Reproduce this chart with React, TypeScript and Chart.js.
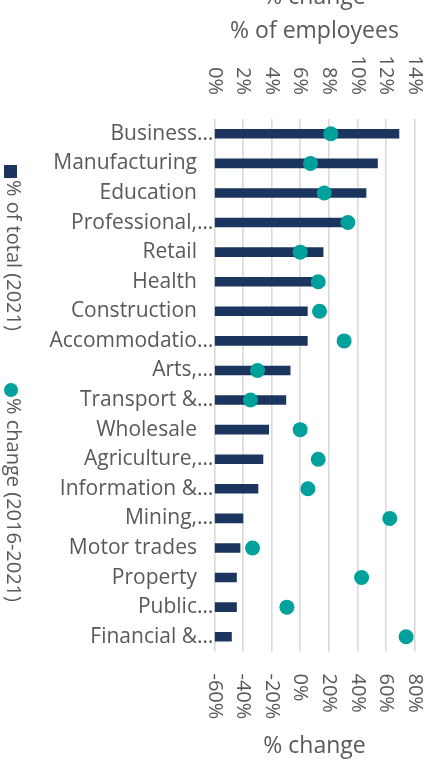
import React, { useEffect, useRef } from "react";
import { Chart, registerables } from "chart.js";

Chart.register(...registerables);

const categories = [
  "Business…",
  "Manufacturing",
  "Education",
  "Professional,…",
  "Retail",
  "Health",
  "Construction",
  "Accommodatio…",
  "Arts,…",
  "Transport &…",
  "Wholesale",
  "Agriculture,…",
  "Information &…",
  "Mining,…",
  "Motor trades",
  "Property",
  "Public…",
  "Financial &…",
];

// % of employees (2021) — top axis
const shareOfTotal = [12.9, 11.4, 10.6, 9.1, 7.6, 7.4, 6.5, 6.5, 5.3, 5.0, 3.8, 3.4, 3.05, 2.0, 1.8, 1.55, 1.55, 1.2];

// % change (2016-2021) — bottom axis
const pctChange = [21.4, 7.2, 16.8, 33.3, 0, 12.6, 13.5, 30.7, -29.8, -34.7, 0, 12.6, 5.4, 62.6, -33.3, 42.9, -9.3, 74];

const topAxis = { min: 0, max: 14, step: 2, title: "% of employees", extraTitle: "% change" };
const bottomAxis = { min: -60, max: 80, step: 20, title: "% change" };
const seriesNames = ["% of total (2021)", "% change (2016-2021)"];

const NAVY = "#1c355e";
const TEAL = "#00a19c";
const TEXT = "#595959";
const GRID = "#d9d9d9";
const FONT = '"Open Sans", sans-serif';

const overlayPlugin = {
  id: "overlay",
  afterDraw(chart: any) {
    const ctx = chart.ctx as CanvasRenderingContext2D;
    const ca = chart.chartArea;
    const cx = (ca.left + ca.right) / 2;
    ctx.save();
    ctx.fillStyle = TEXT;

    // top tick labels (rotated clockwise, ending near axis)
    ctx.font = `20px ${FONT}`;
    const top = chart.scales.xTop;
    top.ticks.forEach((t: any, i: number) => {
      const x = top.getPixelForTick(i);
      ctx.save();
      ctx.translate(x, ca.top - 24);
      ctx.rotate(Math.PI / 2);
      ctx.textAlign = "right";
      ctx.textBaseline = "middle";
      ctx.fillText(`${t.value}%`, 0, 0);
      ctx.restore();
    });

    // bottom tick labels
    const bot = chart.scales.xBottom;
    bot.ticks.forEach((t: any, i: number) => {
      const x = bot.getPixelForTick(i);
      ctx.save();
      ctx.translate(x, ca.bottom + 22);
      ctx.rotate(Math.PI / 2);
      ctx.textAlign = "left";
      ctx.textBaseline = "middle";
      ctx.fillText(`${t.value}%`, 0, 0);
      ctx.restore();
    });

    // axis titles
    ctx.font = `23px ${FONT}`;
    ctx.textAlign = "center";
    ctx.textBaseline = "alphabetic";
    ctx.fillText(topAxis.extraTitle, cx, ca.top - 115);
    ctx.fillText(topAxis.title, cx, ca.top - 81);
    ctx.fillText(bottomAxis.title, cx, ca.bottom + 101.5);

    // legend (vertical, rotated clockwise)
    ctx.font = `20px ${FONT}`;
    ctx.fillStyle = NAVY;
    ctx.fillRect(4, 197, 13, 13);
    ctx.fillStyle = TEAL;
    ctx.beginPath();
    ctx.arc(11, 422, 7, 0, Math.PI * 2);
    ctx.fill();
    ctx.fillStyle = TEXT;
    const drawV = (text: string, x: number, y: number) => {
      ctx.save();
      ctx.translate(x, y);
      ctx.rotate(Math.PI / 2);
      ctx.textAlign = "left";
      ctx.textBaseline = "middle";
      ctx.fillText(text, 0, 0);
      ctx.restore();
    };
    drawV(seriesNames[0], 12.5, 212);
    drawV(seriesNames[1], 12.5, 430);
    ctx.restore();
  },
};

export default function App() {
  const ref = useRef<HTMLCanvasElement>(null);

  useEffect(() => {
    if (!ref.current) return;
    const chart = new Chart(ref.current, {
      type: "bar",
      data: {
        labels: categories,
        datasets: [
          {
            type: "line",
            label: seriesNames[1],
            data: pctChange,
            indexAxis: "y",
            xAxisID: "xBottom",
            yAxisID: "y",
            showLine: false,
            pointRadius: 7.5,
            pointHoverRadius: 7.5,
            pointBackgroundColor: TEAL,
            pointBorderWidth: 0,
            borderColor: TEAL,
            backgroundColor: TEAL,
            order: 0,
          } as any,
          {
            type: "bar",
            label: seriesNames[0],
            data: shareOfTotal,
            xAxisID: "xTop",
            yAxisID: "y",
            backgroundColor: NAVY,
            borderWidth: 0,
            barThickness: 9,
            order: 1,
          },
        ],
      },
      options: {
        indexAxis: "y",
        animation: false,
        responsive: false,
        devicePixelRatio: 1,
        layout: { padding: { left: 0, right: 20.3, top: 0, bottom: 0 } },
        plugins: { legend: { display: false }, tooltip: { enabled: false } },
        scales: {
          xTop: {
            type: "linear",
            position: "top",
            min: topAxis.min,
            max: topAxis.max,
            ticks: { stepSize: topAxis.step, display: false },
            grid: { color: GRID, lineWidth: 1.6, drawTicks: false },
            border: { display: false },
            afterFit: (s: any) => {
              s.height = 151;
            },
          },
          xBottom: {
            type: "linear",
            position: "bottom",
            min: bottomAxis.min,
            max: bottomAxis.max,
            ticks: { stepSize: bottomAxis.step, display: false },
            grid: { display: false, drawTicks: false },
            border: { display: false },
            afterFit: (s: any) => {
              s.height = 112.5;
            },
          },
          y: {
            type: "category",
            position: "left",
            grid: { display: false, drawTicks: false },
            border: { display: false },
            ticks: {
              color: TEXT,
              font: { family: FONT, size: 21 },
              padding: 1,
              autoSkip: false,
              callback: function (this: any, value: any) {
                const lab = String(this.getLabelForValue(value));
                return lab.endsWith("…") ? lab : lab + "   ";
              },
            },
            afterFit: (s: any) => {
              s.width = 214.3;
            },
          },
        },
      } as any,
      plugins: [overlayPlugin],
    });
    return () => chart.destroy();
  }, []);

  return (
    <div style={{ position: "absolute", left: 0, top: -32, width: 435, height: 796 }}>
      <canvas ref={ref} width={435} height={796} style={{ width: 435, height: 796, display: "block" }} />
    </div>
  );
}
